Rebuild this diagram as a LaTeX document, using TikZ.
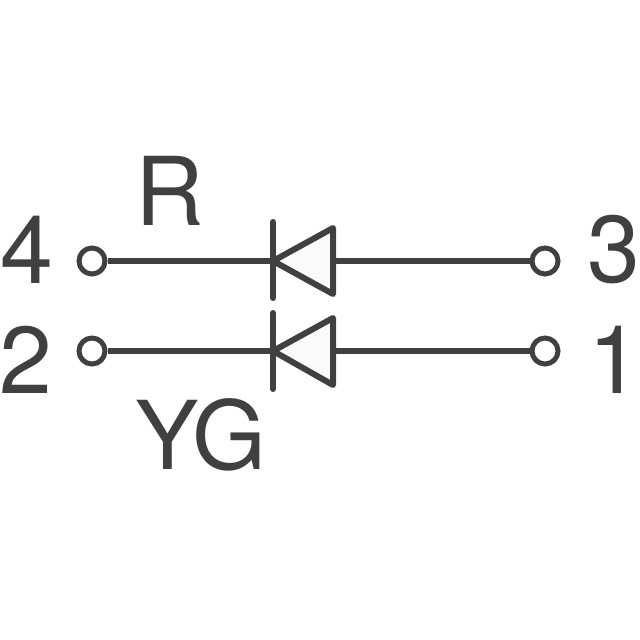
\documentclass[tikz,border=0pt]{standalone}
\usepackage{fontspec}
\setmainfont{TeX Gyre Heros}
\usetikzlibrary{positioning}
\definecolor{symbolgray}{RGB}{64,64,64}
\definecolor{bodyfill}{RGB}{250,250,250}
\tikzset{
  terminal/.style={draw=symbolgray, line width=5pt, fill=white, circle, minimum size=26pt, inner sep=0pt},
  pinlabel/.style={text=symbolgray, font=\fontsize{95}{95}\selectfont, inner sep=0pt},
  wire/.style={draw=symbolgray, line width=6pt},
  diodebar/.style={draw=symbolgray, line width=6pt, line cap=round},
  diodebody/.style={draw=symbolgray, line width=6pt, fill=bodyfill, line join=round}
}
\begin{document}
\begin{tikzpicture}[x=1pt,y=-1pt]
  \useasboundingbox (0,0) rectangle (640,640);
  \node (T4) [terminal] at (92,261) {};
  \node (T3) [terminal] at (545,261) {};
  \node (T2) [terminal] at (92,351) {};
  \node (T1) [terminal] at (545,351) {};
  \node (L4) [pinlabel] at (27,250) {4};
  \node (L3) [pinlabel] at (614,250) {3};
  \node (L2) [pinlabel] at (26,360) {2};
  \node (L1) [pinlabel] at (615,360) {1};
  \node (LR) [pinlabel] at (170,191) {R};
  \node (LYG) [pinlabel] at (201,435) {YG};
  % upper diode
  \coordinate (KA) at (273,261);
  \coordinate (AA) at (333,261);
  \draw[wire] (T4) -- (KA);
  \draw[wire] (AA) -- (T3);
  \draw[diodebody] (KA) -- (333,228) -- (333,294) -- cycle;
  \draw[diodebar] (273,222) -- (273,298);
  % lower diode
  \coordinate (KB) at (273,351);
  \coordinate (AB) at (333,351);
  \draw[wire] (T2) -- (KB);
  \draw[wire] (AB) -- (T1);
  \draw[diodebody] (KB) -- (333,318) -- (333,385) -- cycle;
  \draw[diodebar] (273,313) -- (273,389);
\end{tikzpicture}
\end{document}
